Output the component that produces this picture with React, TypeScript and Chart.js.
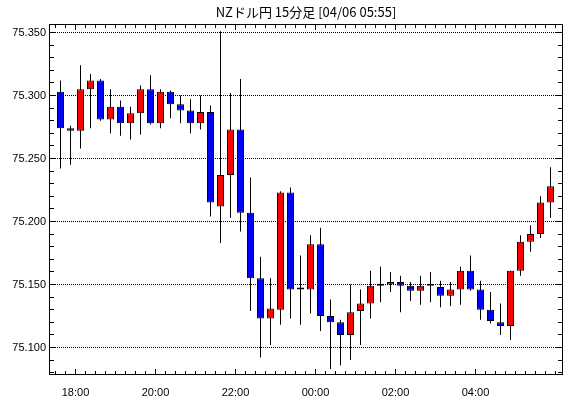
import { useEffect, useRef } from 'react';
import { Chart, registerables } from 'chart.js';

Chart.register(...registerables);

const chartTitle = 'NZドル円 15分足 [04/06 05:55]';
const timeLabels = ['18:00', '20:00', '22:00', '00:00', '02:00', '04:00'];
const timeLabelIndex = [1.5, 9.5, 17.5, 25.5, 33.5, 41.5];
const yTickValues = [75.1, 75.15, 75.2, 75.25, 75.3, 75.35];

const opens = [
  75.303, 75.274, 75.272, 75.305, 75.312, 75.281, 75.291, 75.278, 75.286, 75.305,
  75.278, 75.303, 75.293, 75.288, 75.278, 75.287, 75.212, 75.237, 75.273, 75.207,
  75.155, 75.123, 75.130, 75.223, 75.146, 75.146, 75.182, 75.125, 75.120, 75.110,
  75.129, 75.135, 75.149, 75.150, 75.152, 75.149, 75.145, 75.149, 75.148, 75.141,
  75.146, 75.161, 75.146, 75.130, 75.120, 75.117, 75.161, 75.184, 75.190, 75.215,
];
const highs = [
  75.312, 75.276, 75.324, 75.317, 75.313, 75.305, 75.296, 75.291, 75.308, 75.316,
  75.305, 75.304, 75.300, 75.297, 75.300, 75.292, 75.351, 75.302, 75.313, 75.235,
  75.172, 75.155, 75.224, 75.227, 75.173, 75.189, 75.195, 75.138, 75.122, 75.150,
  75.146, 75.161, 75.164, 75.160, 75.157, 75.152, 75.157, 75.160, 75.153, 75.152,
  75.164, 75.173, 75.153, 75.144, 75.135, 75.161, 75.189, 75.197, 75.220, 75.243,
];
const lows = [
  75.242, 75.245, 75.258, 75.274, 75.280, 75.270, 75.268, 75.265, 75.269, 75.277,
  75.274, 75.282, 75.278, 75.270, 75.273, 75.204, 75.183, 75.203, 75.192, 75.129,
  75.092, 75.102, 75.118, 75.123, 75.118, 75.127, 75.113, 75.083, 75.086, 75.090,
  75.102, 75.123, 75.136, 75.144, 75.128, 75.137, 75.134, 75.136, 75.132, 75.133,
  75.134, 75.145, 75.122, 75.119, 75.110, 75.106, 75.157, 75.176, 75.187, 75.203,
];
const closes = [
  75.274, 75.272, 75.305, 75.312, 75.281, 75.291, 75.278, 75.286, 75.305, 75.278,
  75.303, 75.293, 75.288, 75.278, 75.287, 75.215, 75.237, 75.273, 75.207, 75.155,
  75.123, 75.131, 75.223, 75.146, 75.146, 75.182, 75.125, 75.120, 75.110, 75.128,
  75.135, 75.149, 75.149, 75.152, 75.149, 75.145, 75.149, 75.149, 75.141, 75.146,
  75.161, 75.146, 75.130, 75.121, 75.117, 75.161, 75.184, 75.190, 75.215, 75.228,
];

const upColor = '#ff0000';
const downColor = '#0000ff';
const labelFont = { family: '"Liberation Sans", Arial, sans-serif', size: 11 };

const framePlugin = {
  id: 'frameTicksTitle',
  afterDraw(chart: any) {
    const { ctx, chartArea, scales } = chart;
    const { left, top, right, bottom } = chartArea;
    const xs = scales.x;
    const ys = scales.y;
    ctx.save();
    ctx.strokeStyle = '#000';
    ctx.lineWidth = 1;
    ctx.setLineDash([]);
    ctx.strokeRect(left + 0.5, top + 0.5, right - left - 1, bottom - top - 1);
    ctx.beginPath();
    for (let k = -1; k <= 50; k++) {
      const v = k + 0.5;
      if (v < xs.min || v > xs.max) continue;
      const px = Math.round(xs.getPixelForValue(v) - 0.5) + 0.5;
      const len = timeLabelIndex.includes(v) ? 5 : 3;
      ctx.moveTo(px, top + 1);
      ctx.lineTo(px, top + 1 + len);
      ctx.moveTo(px, bottom - 1);
      ctx.lineTo(px, bottom - 1 - len);
    }
    for (let m = 7500; m <= 7540; m++) {
      const v = m / 100;
      if (v < ys.min || v > ys.max) continue;
      const py = Math.round(ys.getPixelForValue(v) - 0.5) + 0.5;
      const len = m % 5 === 0 ? 6 : 4;
      ctx.moveTo(left + 1, py);
      ctx.lineTo(left + 1 + len, py);
      ctx.moveTo(right - 1, py);
      ctx.lineTo(right - 1 - len, py);
    }
    ctx.stroke();
    ctx.fillStyle = '#000';
    ctx.font = '13px "Noto Sans CJK JP", "DejaVu Sans", sans-serif';
    ctx.textAlign = 'center';
    ctx.textBaseline = 'middle';
    ctx.fillText(chartTitle, (left + right) / 2, 12);
    ctx.restore();
  },
};

export default function App() {
  const canvasRef = useRef<HTMLCanvasElement | null>(null);

  useEffect(() => {
    if (!canvasRef.current) return;
    const idx = opens.map((_, i) => i);
    const bodyColors = idx.map((i) =>
      closes[i] > opens[i] ? upColor : closes[i] < opens[i] ? downColor : '#000000'
    );
    const chart = new Chart(canvasRef.current, {
      type: 'bar',
      data: {
        datasets: [
          {
            label: 'wick',
            data: idx.map((i) => ({ x: i, y: [lows[i], highs[i]] })) as any,
            backgroundColor: '#000000',
            borderWidth: 0,
            barThickness: 1,
            inflateAmount: 0,
            grouped: false,
            order: 2,
          } as any,
          {
            label: 'body',
            data: idx.map((i) => ({ x: i, y: [opens[i], closes[i]] })) as any,
            backgroundColor: bodyColors,
            borderColor: '#000000',
            borderWidth: 1,
            borderSkipped: false,
            barThickness: 7,
            minBarLength: 2,
            inflateAmount: 0,
            grouped: false,
            order: 1,
          } as any,
        ],
      },
      options: {
        responsive: false,
        animation: false,
        devicePixelRatio: 1,
        layout: { padding: { top: 24, right: 7, left: 0, bottom: 0 } },
        plugins: {
          legend: { display: false },
          tooltip: { enabled: false },
          title: { display: false },
        },
        scales: {
          x: {
            type: 'linear',
            min: -1.15,
            max: 50.25,
            offset: false,
            grid: { display: false },
            border: { display: false },
            afterBuildTicks: (s: any) => {
              s.ticks = timeLabelIndex.map((v) => ({ value: v }));
            },
            afterFit: (s: any) => {
              s.height = 23;
            },
            ticks: {
              autoSkip: false,
              maxRotation: 0,
              color: '#000',
              font: labelFont,
              padding: 3,
              callback: (v: any) => {
                const k = timeLabelIndex.indexOf(Number(v));
                return k >= 0 ? timeLabels[k] : '';
              },
            },
          },
          y: {
            type: 'linear',
            min: 75.07817,
            max: 75.35675,
            grid: { color: '#000', lineWidth: 1, drawTicks: false },
            border: { display: false, dash: [1, 1] },
            afterBuildTicks: (s: any) => {
              s.ticks = yTickValues.map((v) => ({ value: v }));
            },
            afterFit: (s: any) => {
              s.width = 49;
            },
            ticks: {
              color: '#000',
              font: labelFont,
              padding: 3,
              callback: (v: any) => Number(v).toFixed(3),
            },
          },
        },
      } as any,
      plugins: [framePlugin],
    });
    return () => chart.destroy();
  }, []);

  return (
    <div style={{ position: 'absolute', left: 0, top: 0, width: 570, height: 398, background: '#fff' }}>
      <canvas ref={canvasRef} width={570} height={398} />
    </div>
  );
}
